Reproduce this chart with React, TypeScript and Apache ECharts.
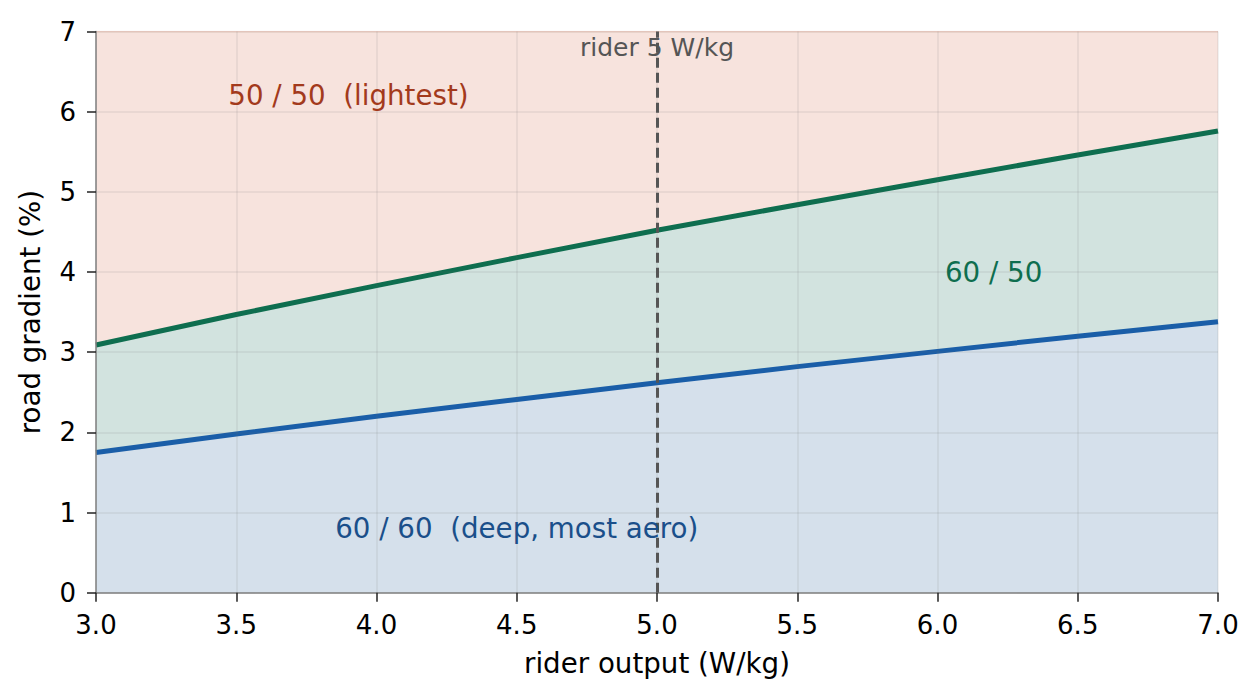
import React, { useEffect, useRef } from "react";
import * as echarts from "echarts";

const riderOutput = [3.0, 3.5, 4.0, 4.5, 5.0, 5.5, 6.0, 6.5, 7.0];
const deepLimit = [1.75, 1.98, 2.2, 2.41, 2.62, 2.82, 3.01, 3.2, 3.38];
const midLimit = [3.09, 3.47, 3.83, 4.18, 4.52, 4.84, 5.15, 5.46, 5.76];
const yMax = 7;
const riderMark = 5.0;
const riderLabel = "rider 5 W/kg";
const riderLabelY = 6.8;
const zoneLabels = ["50 / 50  (lightest)", "60 / 50", "60 / 60  (deep, most aero)"];
const zoneLabelX = [3.9, 6.2, 4.5];
const zoneLabelY = [6.2, 4.0, 0.8];
const zoneLabelColors = ["#a33a1c", "#0e6e4f", "#1a4f8a"];

const FONT = "DejaVu Sans";

export default function App() {
  const ref = useRef<HTMLDivElement>(null);
  useEffect(() => {
    if (!ref.current) return;
    const chart = echarts.init(ref.current, undefined, { renderer: "svg" });
    const blueData = riderOutput.map((x, i) => [x, deepLimit[i]]);
    const greenData = riderOutput.map((x, i) => [x, midLimit[i]]);
    const topData = riderOutput.map((x) => [x, yMax]);
    const annData = zoneLabels.map((t, i) => ({
      value: [zoneLabelX[i], zoneLabelY[i]],
      name: t,
      label: { color: zoneLabelColors[i] },
    }));
    const gridLine = { show: true, lineStyle: { color: "rgba(110,110,110,0.13)", width: 1.5 } };
    chart.setOption({
      animation: false,
      grid: { left: 96, right: 42, top: 31.5, bottom: 107.3, containLabel: false },
      xAxis: {
        type: "value",
        min: 3,
        max: 7,
        interval: 0.5,
        z: 4,
        name: "rider output (W/kg)",
        nameLocation: "middle",
        nameGap: 57,
        nameTextStyle: { fontFamily: FONT, fontSize: 27.7, color: "#000" },
        axisLine: { show: true, lineStyle: { color: "#808080", width: 1.5 } },
        axisTick: { show: true, length: 9, lineStyle: { color: "#222", width: 1.5 } },
        axisLabel: {
          fontFamily: FONT,
          fontSize: 26,
          color: "#000",
          margin: 19,
          formatter: (v: number) => v.toFixed(1),
        },
        splitLine: gridLine,
      },
      yAxis: {
        type: "value",
        min: 0,
        max: 7,
        interval: 1,
        z: 4,
        name: "road gradient (%)",
        nameLocation: "middle",
        nameGap: 52,
        nameRotate: 90,
        nameTextStyle: { fontFamily: FONT, fontSize: 27.7, color: "#000" },
        axisLine: { show: true, lineStyle: { color: "#808080", width: 1.5 } },
        axisTick: { show: true, length: 9, lineStyle: { color: "#222", width: 1.5 } },
        axisLabel: { fontFamily: FONT, fontSize: 26, color: "#000", margin: 20 },
        splitLine: gridLine,
      },
      series: [
        {
          type: "line",
          data: topData,
          symbol: "none",
          lineStyle: { color: "#f0cfc4", width: 1.5 },
          areaStyle: { color: "#f7e3dd", opacity: 1 },
          z: 1,
        },
        {
          type: "line",
          data: greenData,
          symbol: "none",
          lineStyle: { color: "#0e6e4f", width: 5 },
          areaStyle: { color: "#d2e3df", opacity: 1 },
          z: 2,
        },
        {
          type: "line",
          data: blueData,
          symbol: "none",
          lineStyle: { color: "#1a5ea8", width: 5 },
          areaStyle: { color: "#d5e0eb", opacity: 1 },
          z: 3,
          markLine: {
            silent: true,
            symbol: "none",
            label: { show: false },
            lineStyle: { color: "#555555", width: 3, type: [10, 5] },
            data: [{ xAxis: riderMark }],
          },
        },
        {
          type: "scatter",
          data: [{ value: [riderMark, riderLabelY], name: riderLabel }],
          symbolSize: 0,
          itemStyle: { opacity: 1 },
          z: 2,
          label: {
            show: true,
            position: "inside",
            formatter: (p: any) => p.name,
            fontFamily: FONT,
            fontSize: 25,
            color: "#555555",
          },
        },
        {
          type: "scatter",
          data: annData,
          symbolSize: 0,
          itemStyle: { opacity: 1 },
          z: 5,
          label: {
            show: true,
            position: "inside",
            formatter: (p: any) => p.name,
            fontFamily: FONT,
            fontSize: 27.7,
          },
        },
      ],
    });
    return () => chart.dispose();
  }, []);
  return (
    <div
      ref={ref}
      style={{ position: "absolute", left: 0, top: 0, width: 1260, height: 700, background: "#fff" }}
    />
  );
}
